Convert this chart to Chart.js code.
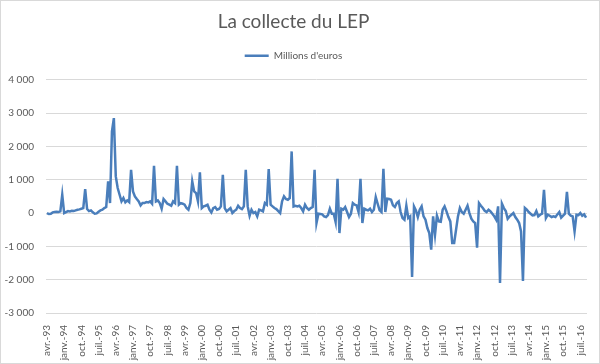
<!DOCTYPE html>
<html>
<head>
<meta charset="utf-8">
<script src="https://cdn.jsdelivr.net/npm/chart.js@4"></script>
<style>
  html, body { margin: 0; padding: 0; background: #fff; }
  #wrap { width: 600px; height: 364px; }
</style>
</head>
<body>
<div id="wrap"><canvas id="lepChart" width="600" height="364"></canvas></div>
<script>
// Collecte mensuelle du LEP, avr.-93 -> oct.-16 (millions d'euros)
const startYear = 1993;
const startMonth = 3; // avril
const monthNames = ['janv.', 'févr.', 'mars', 'avr.', 'mai', 'juin', 'juil.', 'août', 'sept.', 'oct.', 'nov.', 'déc.'];
const seriesLabel = "Millions d'euros";
const yTicks = [-3000, -2000, -1000, 0, 1000, 2000, 3000, 4000];

const collecte = [
  // avr.-93 .. mars-94
  0, -30, -20, 20, 30, 40, 30, 50, 550, 0, 30, 60,
  // avr.-94 .. mars-95
  50, 70, 60, 80, 100, 110, 130, 150, 720, 120, 60, 80,
  // avr.-95 .. mars-96
  20, -20, -10, 40, 80, 100, 150, 180, 950, 300, 2450, 2850,
  // avr.-96 .. mars-97
  1100, 750, 550, 350, 450, 320, 380, 330, 1300, 650, 500, 420,
  // avr.-97 .. mars-98
  350, 230, 300, 300, 330, 320, 350, 280, 1420, 350, 380, 300,
  // avr.-98 .. mars-99
  130, 420, 350, 280, 250, 220, 350, 300, 1420, 250, 300, 280,
  // avr.-99 .. mars-00
  250, 150, 100, 300, 950, 650, 600, 350, 1220, 150, 200, 220,
  // avr.-00 .. mars-01
  250, 100, 20, 150, 180, 100, 120, 200, 1150, 150, 50, 100,
  // avr.-01 .. mars-02
  150, 0, 60, 100, 220, 150, 120, 200, 1300, 200, -80, 100,
  // avr.-02 .. mars-03
  0, 30, -100, 100, 80, 50, 300, 250, 1320, 250, 200, 150,
  // avr.-03 .. mars-04
  120, 60, 0, 350, 500, 420, 400, 450, 1850, 200, 220, 200,
  // avr.-04 .. mars-05
  220, 150, 50, 250, 150, 100, 150, 180, 1300, -300, -20, -30,
  // avr.-05 .. mars-06
  -40, -100, -120, -60, 130, -20, -20, -270, 1030, -600, 130, 100,
  // avr.-06 .. mars-07
  180, 30, -120, -20, 300, 250, 230, 30, 1030, -300, 130, 100,
  // avr.-07 .. mars-08
  80, 130, 30, 100, 480, 280, 80, 30, 1330, 30, 430, 420,
  // avr.-08 .. mars-09
  400, 230, 180, 300, 350, 30, -150, -200, 220, -150, -100, -1920,
  // avr.-09 .. mars-10
  200, 80, -120, 100, 200, -100, -200, -450, -600, -1100, -100, -650,
  // avr.-10 .. mars-11
  -80, -250, -260, 100, 200, 50, -120, -250, -900, -900, -500, -100,
  // avr.-11 .. mars-12
  150, 30, -20, 100, 220, 0, -170, -250, -300, -1040, 300, 220,
  // avr.-12 .. mars-13
  150, 70, 30, 100, 50, -20, -100, -200, 200, -2100, 280, 150,
  // avr.-13 .. mars-14
  60, -170, -100, -50, 0, -120, -200, -300, -550, -2040, 150, 100,
  // avr.-14 .. mars-15
  30, -20, -70, -60, 60, -100, -50, -20, 700, -150, -50, -80,
  // avr.-15 .. mars-16
  -120, -100, -120, -40, 30, -140, -80, -20, 640, -20, -80, -100,
  // avr.-16 .. oct.-16
  -550, -50, -60, 0, -80, -40, -140
];

const labels = collecte.map((_, i) => {
  const m = (startMonth + i) % 12;
  const y = startYear + Math.floor((startMonth + i) / 12);
  return monthNames[m] + '-' + String(y % 100).padStart(2, '0');
});

function formatMilliers(v) {
  const s = Math.abs(v).toString().replace(/\B(?=(\d{3})+(?!\d))/g, ' ');
  return (v < 0 ? '-' : '') + s;
}

// cadre gris autour de l'image
const cadre = {
  id: 'cadre',
  afterDraw(chart) {
    const c = chart.ctx;
    c.save();
    c.strokeStyle = '#d9d9d9';
    c.lineWidth = 1;
    c.strokeRect(0.5, 0.5, chart.width - 1, chart.height - 1);
    c.restore();
  }
};

// un peu plus d'espace sous la légende
const legendGap = {
  id: 'legendGap',
  beforeInit(chart) {
    const fit = chart.legend.fit;
    chart.legend.fit = function () {
      fit.bind(chart.legend)();
      this.height += 9;
    };
  }
};

const txt = '#595959';
const ctx = document.getElementById('lepChart').getContext('2d');
new Chart(ctx, {
  type: 'line',
  data: {
    labels: labels,
    datasets: [{
      label: seriesLabel,
      data: collecte,
      borderColor: '#4a7ebb',
      backgroundColor: '#4a7ebb',
      borderWidth: 2.5,
      pointRadius: 0,
      pointStyle: 'line',
      tension: 0,
      fill: false
    }]
  },
  options: {
    responsive: false,
    animation: false,
    layout: { padding: { top: 4, right: 13, bottom: 0, left: 0 } },
    plugins: {
      title: {
        display: true,
        text: 'La collecte du LEP',
        color: txt,
        font: { family: 'Lato', size: 19, weight: 'normal' },
        padding: { top: 6, bottom: 8 }
      },
      legend: {
        display: true,
        labels: {
          color: txt,
          font: { family: 'Lato', size: 10 },
          usePointStyle: true,
          pointStyleWidth: 24,
          boxHeight: 10,
          padding: 10
        }
      },
      tooltip: { enabled: false }
    },
    scales: {
      x: {
        offset: true,
        afterFit(scale) { scale.height = 51; },
        grid: { display: false },
        border: { display: false },
        ticks: {
          autoSkip: false,
          maxRotation: 90,
          minRotation: 90,
          color: txt,
          font: { family: 'Lato', size: 10 },
          padding: 4,
          callback: function (val, idx) {
            return idx % 9 === 0 ? labels[idx] : null;
          }
        }
      },
      y: {
        min: -3000,
        max: 4000,
        afterFit(scale) { scale.width = 46; },
        afterBuildTicks(scale) { scale.ticks = yTicks.map(v => ({ value: v })); },
        grid: { color: '#d9d9d9', lineWidth: 1, drawTicks: false },
        border: { display: false },
        ticks: {
          color: txt,
          font: { family: 'Lato', size: 10 },
          padding: 12,
          callback: v => formatMilliers(v)
        }
      }
    }
  },
  plugins: [cadre, legendGap]
});
</script>
</body>
</html>
